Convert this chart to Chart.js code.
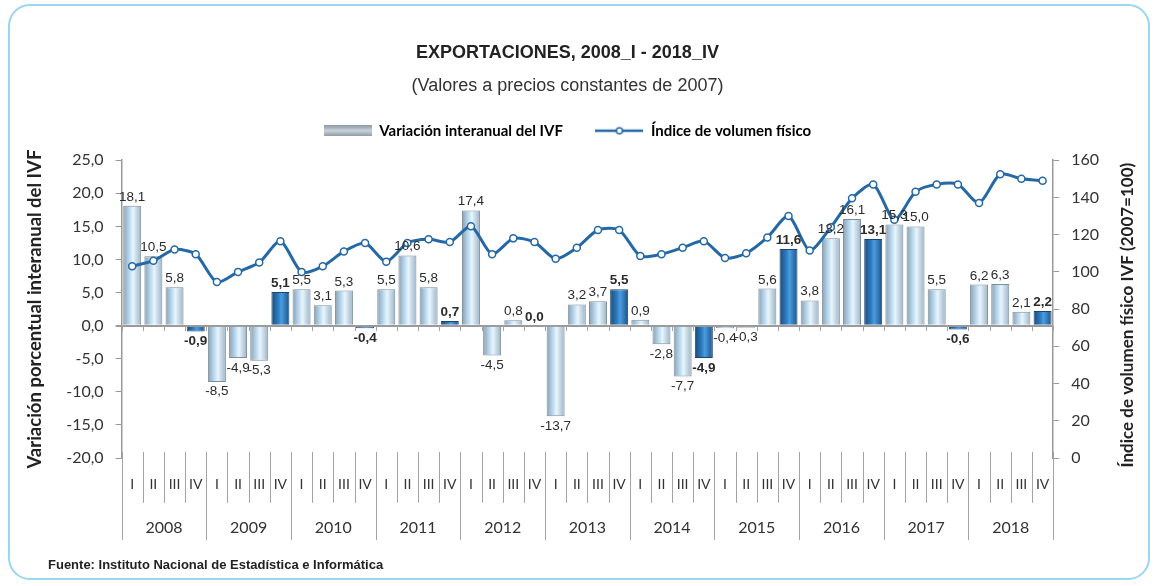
<!DOCTYPE html>
<html>
<head>
<meta charset="utf-8">
<script src="https://cdn.jsdelivr.net/npm/chart.js@4.4.1/dist/chart.umd.min.js"></script>
<style>
  body { margin: 0; background: #fff; }
  #wrap { position: relative; width: 1157px; height: 586px; }
  #marco { position: absolute; left: 8px; top: 4px; width: 1138px; height: 572px;
           border: 2px solid #9ad6f0; border-radius: 22px; }
  #fuente { position: absolute; left: 48px; top: 557px; color: #222;
            font: bold 13px 'Liberation Sans Narrow', 'Liberation Sans', Arial, sans-serif; }
  canvas { position: absolute; left: 0; top: 0; }
</style>
</head>
<body>
<div id="wrap">
  <div id="marco"></div>
  <canvas id="graficoExport" width="1157" height="586"></canvas>
  <div id="fuente">Fuente: Instituto Nacional de Estadística e Informática</div>
</div>
<script>
var years = ['2008', '2009', '2010', '2011', '2012', '2013', '2014', '2015', '2016', '2017', '2018'];
var quarters = ['I', 'II', 'III', 'IV'];

// Variación interanual del IVF (%)
var variacion = [
  18.1, 10.5, 5.8, -0.9,
  -8.5, -4.9, -5.3, 5.1,
  5.5, 3.1, 5.3, -0.4,
  5.5, 10.6, 5.8, 0.7,
  17.4, -4.5, 0.8, 0.0,
  -13.7, 3.2, 3.7, 5.5,
  0.9, -2.8, -7.7, -4.9,
  -0.4, -0.3, 5.6, 11.6,
  3.8, 13.2, 16.1, 13.1,
  15.3, 15.0, 5.5, -0.6,
  6.2, 6.3, 2.1, 2.2
];

// Índice de volumen físico (2007=100)
var indiceIVF = [
  103, 106, 112, 109.5,
  94.5, 100, 105, 116.5,
  100, 103, 111, 115.5,
  105.5, 115.5, 117.5, 116,
  124.5, 109.5, 118, 116,
  107, 113, 122.5, 122.5,
  108.5, 109.5, 113, 116.5,
  107.5, 110, 118.5, 130,
  111.5, 124, 139.5, 147,
  128, 143, 147, 147,
  137, 152.5, 150, 149
];

var etiquetas = [];
years.forEach(function () { quarters.forEach(function (q) { etiquetas.push(q); }); });

var fuenteNum = "'Liberation Sans Narrow', 'Liberation Sans', Arial, sans-serif";
var fuenteEje = "Lato, 'Open Sans', sans-serif";

function coma(v) { return v.toFixed(1).replace('.', ','); }

// relleno tipo cilindro para cada barra
function rellenoBarra(c) {
  var chart = c.chart;
  var esIV = c.dataIndex % 4 === 3;
  var col = esIV ? ['#1b4a78', '#2f7fc4', '#4a9de0', '#1d5288'] : ['#8a9fb1', '#c4e2f7', '#e8f5fd', '#9cb3c6'];
  if (!chart.chartArea || c.type !== 'data') return col[1];
  var esc = chart.scales.x;
  var x = esc.getPixelForValue(c.dataIndex);
  var w = esc.width / etiquetas.length * 0.85;
  var g = chart.ctx.createLinearGradient(x - w / 2, 0, x + w / 2, 0);
  g.addColorStop(0, col[0]);
  g.addColorStop(0.4, col[1]);
  g.addColorStop(0.55, col[2]);
  g.addColorStop(1, col[3]);
  return g;
}

// muestras de la leyenda
function muestraBarra() {
  var c = document.createElement('canvas');
  c.width = 48; c.height = 11;
  var g = c.getContext('2d');
  var gr = g.createLinearGradient(0, 0, 0, 11);
  gr.addColorStop(0, '#8c9aa5');
  gr.addColorStop(0.5, '#c9d2d8');
  gr.addColorStop(1, '#8c9aa5');
  g.fillStyle = gr;
  g.fillRect(0, 0, 48, 11);
  return c;
}
function muestraLinea() {
  var c = document.createElement('canvas');
  c.width = 48; c.height = 10;
  var g = c.getContext('2d');
  g.strokeStyle = '#2568a6'; g.lineWidth = 2.5;
  g.beginPath(); g.moveTo(0, 5); g.lineTo(48, 5); g.stroke();
  g.fillStyle = '#fff'; g.lineWidth = 1.5;
  g.beginPath(); g.arc(24, 5, 3, 0, Math.PI * 2); g.fill(); g.stroke();
  return c;
}

// hueco entre la leyenda y el area del grafico
var espacioLeyenda = {
  id: 'espacioLeyenda',
  beforeInit: function (chart) {
    Chart.layouts.addBox(chart, {
      position: 'top', weight: 1, fullSize: true, options: {},
      top: 0, left: 0, right: 0, bottom: 0, width: 0, height: 0,
      isHorizontal: function () { return true; },
      update: function (maxWidth) { this.width = maxWidth; this.height = 12; },
      draw: function () {},
      _layers: function () { return [{ z: 0, draw: function () {} }]; }
    });
  }
};

var etiquetasBarras = {
  id: 'etiquetasBarras',
  afterDatasetsDraw: function (chart) {
    var meta = chart.getDatasetMeta(1);
    var ctx = chart.ctx;
    ctx.save();
    ctx.fillStyle = '#2b2b2b';
    ctx.textAlign = 'center';
    meta.data.forEach(function (bar, i) {
      var v = variacion[i];
      ctx.font = (i % 4 === 3 ? 'bold ' : '') + '13.5px ' + fuenteNum;
      if (v >= 0) {
        ctx.textBaseline = 'bottom';
        ctx.fillText(coma(v), bar.x, bar.y - 2);
      } else {
        ctx.textBaseline = 'top';
        ctx.fillText(coma(v), bar.x, bar.y + 3);
      }
    });
    ctx.restore();
  }
};

// separadores de trimestres y de años bajo el eje, y marcas sobre la línea del cero
var separadores = {
  id: 'separadores',
  afterDraw: function (chart) {
    var esc = chart.scales.x;
    var a = chart.chartArea;
    var y0 = Math.round(chart.scales.y.getPixelForValue(0));
    var ctx = chart.ctx;
    ctx.save();
    ctx.strokeStyle = '#a3a3a3';
    ctx.lineWidth = 1;
    for (var i = 0; i <= etiquetas.length; i++) {
      var px = Math.round(esc.getPixelForValue(i - 0.5)) + 0.5;
      var fin = i % 4 === 0 ? chart.scales.x2.bottom - 4 : esc.bottom - 8;
      ctx.beginPath();
      ctx.moveTo(px, a.bottom - 6);
      ctx.lineTo(px, fin);
      ctx.moveTo(px, y0);
      ctx.lineTo(px, y0 + 5);
      ctx.stroke();
    }
    ctx.restore();
  }
};

// título del eje derecho, leído de abajo hacia arriba
var tituloDerecho = {
  id: 'tituloDerecho',
  afterDraw: function (chart) {
    var a = chart.chartArea;
    var ctx = chart.ctx;
    ctx.save();
    ctx.translate(chart.scales.y1.right + 17, (a.top + a.bottom) / 2 + 6);
    ctx.rotate(-Math.PI / 2);
    ctx.font = 'bold 17px ' + fuenteEje;
    ctx.fillStyle = '#222';
    ctx.textAlign = 'center';
    ctx.textBaseline = 'middle';
    ctx.fillText('Índice de volumen físico IVF (2007=100)', 0, 0);
    ctx.restore();
  }
};

var ctx = document.getElementById('graficoExport').getContext('2d');
var grafico = new Chart(ctx, {
  type: 'bar',
  data: {
    labels: etiquetas,
    datasets: [{
      type: 'line',
      label: 'Índice de volumen físico',
      data: indiceIVF,
      yAxisID: 'y1',
      borderColor: '#2568a6',
      borderWidth: 3,
      tension: 0.25,
      pointRadius: 3.5,
      pointBackgroundColor: '#fff',
      pointBorderColor: '#2568a6',
      pointBorderWidth: 1.5,
      order: 0
    }, {
      label: 'Variación interanual del IVF',
      data: variacion,
      yAxisID: 'y',
      backgroundColor: rellenoBarra,
      borderColor: function (c) { return c.dataIndex % 4 === 3 ? '#1c456e' : '#7b8d9c'; },
      borderWidth: 1,
      barPercentage: 0.85,
      categoryPercentage: 1.0,
      order: 1
    }]
  },
  options: {
    responsive: false,
    animation: false,
    layout: { padding: { top: 30, left: 24, right: 46, bottom: 42 } },
    plugins: {
      title: {
        display: true,
        text: 'EXPORTACIONES, 2008_I - 2018_IV',
        color: '#222',
        font: { family: fuenteNum, size: 18, weight: 'bold' },
        padding: { top: 12, bottom: 6 }
      },
      subtitle: {
        display: true,
        text: '(Valores a precios constantes de 2007)',
        color: '#333',
        font: { family: fuenteNum, size: 18 },
        padding: { top: 6, bottom: 16 }
      },
      legend: {
        labels: {
          usePointStyle: true,
          pointStyleWidth: 48,
          color: '#222',
          padding: 10,
          font: { family: fuenteEje, size: 15, weight: 'bold' },
          generateLabels: function () {
            return [
              { text: 'Variación interanual del IVF\u2003\u2003', pointStyle: muestraBarra(), fillStyle: 'transparent', strokeStyle: 'transparent', lineWidth: 0, datasetIndex: 1 },
              { text: 'Índice de volumen físico', pointStyle: muestraLinea(), fillStyle: 'transparent', strokeStyle: 'transparent', lineWidth: 0, datasetIndex: 0 }
            ];
          }
        }
      },
      tooltip: { enabled: false }
    },
    scales: {
      x: {
        offset: true,
        grid: { display: false, drawTicks: false },
        border: { display: false },
        ticks: { autoSkip: false, maxRotation: 0, padding: 18, color: '#333', font: { family: fuenteEje, size: 14 } }
      },
      x2: {
        type: 'category',
        labels: years,
        position: 'bottom',
        weight: 1,
        offset: true,
        grid: { display: false, drawTicks: false },
        border: { display: false },
        ticks: { autoSkip: false, maxRotation: 0, padding: 7, color: '#333', font: { family: fuenteEje, size: 16 } }
      },
      y: {
        position: 'left',
        min: -20,
        max: 25,
        ticks: { stepSize: 5, padding: 12, color: '#333', font: { family: fuenteEje, size: 16 }, callback: function (v) { return coma(v); } },
        grid: {
          color: function (c) { return c.tick && c.tick.value === 0 ? '#9a9a9a' : 'rgba(0,0,0,0)'; },
          lineWidth: function (c) { return c.tick && c.tick.value === 0 ? 2 : 1; },
          tickColor: '#999',
          tickLength: 6
        },
        border: { display: true, color: '#999', width: 1.5 },
        title: {
          display: true,
          text: 'Variación porcentual interanual del IVF',
          color: '#222',
          font: { family: fuenteEje, size: 18.5, weight: 'bold' },
          padding: { top: 0, bottom: 8 }
        }
      },
      y1: {
        position: 'right',
        min: 0,
        max: 160,
        ticks: { stepSize: 20, padding: 12, color: '#333', font: { family: fuenteEje, size: 16 } },
        grid: { drawOnChartArea: false, color: '#999', tickLength: 6 },
        border: { display: true, color: '#999', width: 1.5 }
      }
    }
  },
  plugins: [espacioLeyenda, etiquetasBarras, separadores, tituloDerecho]
});
</script>
</body>
</html>
